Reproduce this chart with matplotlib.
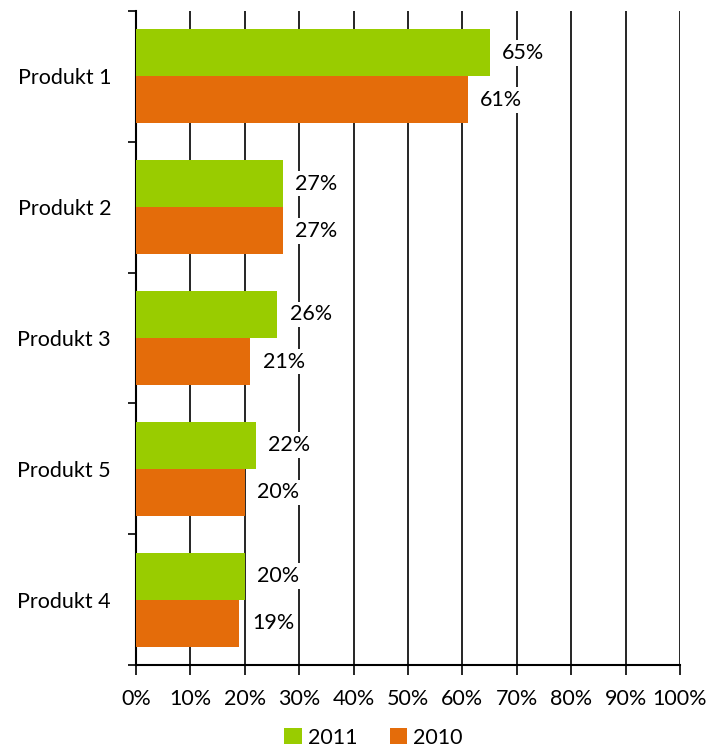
import numpy as np
import matplotlib.pyplot as plt
from matplotlib.ticker import FixedLocator, PercentFormatter

products = ['Produkt 1', 'Produkt 2', 'Produkt 3', 'Produkt 5', 'Produkt 4']
v2011 = [65, 27, 26, 22, 20]
v2010 = [61, 27, 21, 20, 19]
ticks = list(range(0, 101, 10))

plt.rcParams['font.family'] = ['Lato', 'DejaVu Sans']
plt.rcParams['font.size'] = 15.5

fig = plt.figure(figsize=(7.13, 7.52), dpi=100)
ax = fig.add_axes([136/713, 1 - 665/752, (680 - 136)/713, (665 - 11)/752])

y = np.arange(len(products))
h = 0.36
green = '#99cc00'
orange = '#e46c0a'
b1 = ax.barh(y - h/2, v2011, height=h, color=green, label='2011', zorder=3)
b2 = ax.barh(y + h/2, v2010, height=h, color=orange, label='2010', zorder=3)

for bars, vals in ((b1, v2011), (b2, v2010)):
	for bar, v in zip(bars, vals):
		ax.annotate('%d%%' % v, (v, bar.get_y() + bar.get_height()/2),
			xytext=(9, 0), textcoords='offset points', ha='left', va='center',
			fontsize=15.5, zorder=4,
			bbox=dict(facecolor='white', edgecolor='none', pad=2))

ax.set_xlim(0, 100)
ax.set_ylim(len(products) - 0.5, -0.5)
ax.set_xticks(ticks)
ax.xaxis.set_major_formatter(PercentFormatter(decimals=0))
ax.grid(axis='x', color='black', linewidth=1.2, zorder=0)
ax.set_yticks(y)
ax.set_yticklabels(products)
ax.yaxis.set_minor_locator(FixedLocator(np.arange(-0.5, len(products), 1.0)))
ax.tick_params(axis='y', which='major', length=0, pad=18)
ax.tick_params(axis='y', which='minor', length=6, width=1.2, direction='out')
ax.tick_params(axis='x', length=7, width=1.2, direction='out', pad=10)
for s in ('top', 'right'):
	ax.spines[s].set_visible(False)
ax.spines['left'].set_linewidth(1.5)
ax.spines['bottom'].set_linewidth(1.5)

fig.legend(handles=[b1, b2], loc='lower center', ncol=2, frameon=False,
	bbox_to_anchor=(0.524, -0.02), handlelength=0.8, handleheight=0.8,
	columnspacing=1.5, handletextpad=0.3, fontsize=15.5)

fig.savefig('out.png', dpi=100)
